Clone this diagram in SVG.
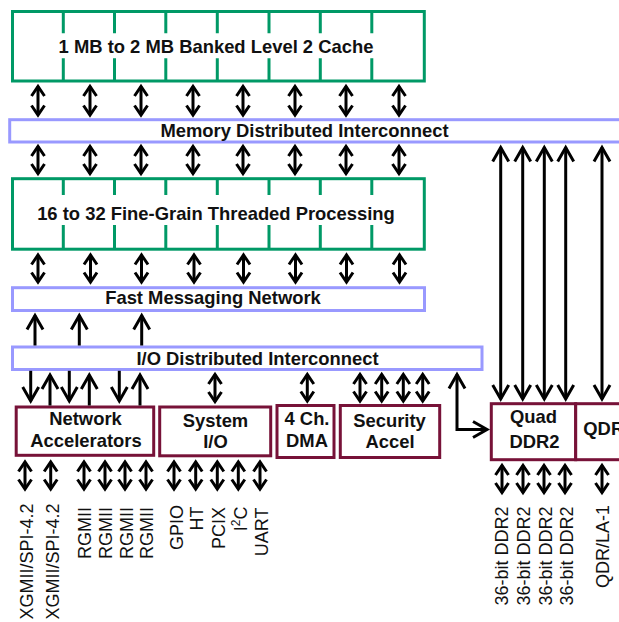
<svg xmlns="http://www.w3.org/2000/svg" width="619" height="622" viewBox="0 0 619 622">
<style>
.g{fill:#fff;stroke:#009966;stroke-width:3}
.gd{fill:none;stroke:#009966;stroke-width:3}
.b{fill:#fff;stroke:#9999ff;stroke-width:3}
.m{fill:#fff;stroke:#771238;stroke-width:3}
.t{font-family:"Liberation Sans",Arial,sans-serif;font-weight:bold;font-size:18.4px;fill:#111;text-anchor:middle}
.r{font-family:"Liberation Sans",Arial,sans-serif;font-size:18px;fill:#111;text-anchor:end}
.c{fill:none;stroke:#000;stroke-width:3}
.s{marker-start:url(#hs);marker-end:url(#hs)}
.l{marker-start:url(#hl);marker-end:url(#hl)}
.le{marker-end:url(#hl)}
</style>
<defs>
<marker id="hs" viewBox="-14 -10 18 20" markerWidth="18" markerHeight="20" refX="0" refY="0" orient="auto-start-reverse" markerUnits="userSpaceOnUse">
<path d="M-9.5,-6.5 L0,0 L-9.5,6.5" fill="none" stroke="#000" stroke-width="3"/>
</marker>
<marker id="hl" viewBox="-18 -11 22 22" markerWidth="22" markerHeight="22" refX="0" refY="0" orient="auto-start-reverse" markerUnits="userSpaceOnUse">
<path d="M-14,-8 L0,0 L-14,8" fill="none" stroke="#000" stroke-width="3"/>
</marker>
</defs>
<rect width="619" height="622" fill="#fff"/>

<g id="cache">
<rect class="g" x="12.5" y="11.5" width="411.8" height="69.5"/>
<path class="gd" d="M63.3,11.5V33.3M63.3,58.3V81M114.5,11.5V33.3M114.5,58.3V81M165.8,11.5V33.3M165.8,58.3V81M217.3,11.5V33.3M217.3,58.3V81M269,11.5V33.3M269,58.3V81M320.3,11.5V33.3M320.3,58.3V81M371.8,11.5V33.3M371.8,58.3V81"/>
<text class="t" x="216" y="53">1 MB to 2 MB Banked Level 2 Cache</text>
</g>

<g id="memory-interconnect">
<rect class="b" x="9.7" y="119.7" width="625" height="22.3"/>
<text class="t" x="304.5" y="137">Memory Distributed Interconnect</text>
</g>

<g id="processing">
<rect class="g" x="12.5" y="178.7" width="411.8" height="70.5"/>
<path class="gd" d="M63.3,178.7V195M63.3,225V249.2M114.5,178.7V195M114.5,225V249.2M165.8,178.7V195M165.8,225V249.2M217.3,178.7V195M217.3,225V249.2M269,178.7V195M269,225V249.2M320.3,178.7V195M320.3,225V249.2M371.8,178.7V195M371.8,225V249.2"/>
<text class="t" x="216" y="220">16 to 32 Fine-Grain Threaded Processing</text>
</g>

<g id="fast-messaging">
<rect class="b" x="12.5" y="287.7" width="412" height="22.8"/>
<text class="t" x="213" y="304">Fast Messaging Network</text>
</g>

<g id="io-interconnect">
<rect class="b" x="12.5" y="347" width="469.5" height="22.5"/>
<text class="t" x="257.5" y="364.5">I/O Distributed Interconnect</text>
</g>

<g id="network-accelerators">
<rect class="m" x="16.2" y="407" width="137.5" height="48.3"/>
<text class="t" x="85.5" y="425">Network</text>
<text class="t" x="86" y="447.3">Accelerators</text>
</g>

<g id="system-io">
<rect class="m" x="159.7" y="407" width="111" height="48.8"/>
<text class="t" x="215.5" y="426.7">System</text>
<text class="t" x="215.5" y="448.3">I/O</text>
</g>

<g id="dma">
<rect class="m" x="277" y="405.5" width="57" height="52"/>
<text class="t" x="307" y="425">4 Ch.</text>
<text class="t" x="307" y="446.7">DMA</text>
</g>

<g id="security">
<rect class="m" x="340.3" y="405.5" width="99.4" height="52"/>
<text class="t" x="389.5" y="426.7">Security</text>
<text class="t" x="390" y="448.3">Accel</text>
</g>

<g id="quad-ddr2">
<rect class="m" x="491.3" y="403.7" width="84.4" height="56"/>
<text class="t" x="533.5" y="423.3">Quad</text>
<text class="t" x="534.5" y="448.3">DDR2</text>
</g>

<g id="qdr">
<rect class="m" x="575.7" y="403.7" width="60" height="56"/>
<text class="t" x="583.3" y="435" style="text-anchor:start">QDR</text>
</g>

<g id="connectors">
<g class="c s">
<line x1="38" y1="86.5" x2="38" y2="115"/>
<line x1="90" y1="86.5" x2="90" y2="115"/>
<line x1="141" y1="86.5" x2="141" y2="115"/>
<line x1="193" y1="86.5" x2="193" y2="115"/>
<line x1="243" y1="86.5" x2="243" y2="115"/>
<line x1="295" y1="86.5" x2="295" y2="115"/>
<line x1="346" y1="86.5" x2="346" y2="115"/>
<line x1="399" y1="86.5" x2="399" y2="115"/>

<line x1="38" y1="146.5" x2="38" y2="173.5"/>
<line x1="90" y1="146.5" x2="90" y2="173.5"/>
<line x1="141" y1="146.5" x2="141" y2="173.5"/>
<line x1="193" y1="146.5" x2="193" y2="173.5"/>
<line x1="243" y1="146.5" x2="243" y2="173.5"/>
<line x1="295" y1="146.5" x2="295" y2="173.5"/>
<line x1="346" y1="146.5" x2="346" y2="173.5"/>
<line x1="399" y1="146.5" x2="399" y2="173.5"/>

<line x1="38" y1="255" x2="38" y2="282"/>
<line x1="90.5" y1="255" x2="90.5" y2="282"/>
<line x1="141.5" y1="255" x2="141.5" y2="282"/>
<line x1="194" y1="255" x2="194" y2="282"/>
<line x1="243.5" y1="255" x2="243.5" y2="282"/>
<line x1="295.5" y1="255" x2="295.5" y2="282"/>
<line x1="346.5" y1="255" x2="346.5" y2="282"/>
<line x1="399.5" y1="255" x2="399.5" y2="282"/>

<line x1="215" y1="374.5" x2="215" y2="401.5"/>
<line x1="307.3" y1="374.5" x2="307.3" y2="401"/>
<line x1="360" y1="374.5" x2="360" y2="401"/>
<line x1="381.7" y1="374.5" x2="381.7" y2="401"/>
<line x1="403.3" y1="374.5" x2="403.3" y2="401"/>
<line x1="422.7" y1="374.5" x2="422.7" y2="401"/>

<line x1="25" y1="462" x2="25" y2="489"/>
<line x1="50.7" y1="462" x2="50.7" y2="489"/>
<line x1="84" y1="462" x2="84" y2="489"/>
<line x1="105" y1="462" x2="105" y2="489"/>
<line x1="125" y1="462" x2="125" y2="489"/>
<line x1="146" y1="462" x2="146" y2="489"/>
<line x1="174" y1="462" x2="174" y2="489"/>
<line x1="195.7" y1="462" x2="195.7" y2="489"/>
<line x1="217.3" y1="462" x2="217.3" y2="489"/>
<line x1="238.3" y1="462" x2="238.3" y2="489"/>
<line x1="260" y1="462" x2="260" y2="489"/>

<line x1="502" y1="465.5" x2="502" y2="492.5"/>
<line x1="523" y1="465.5" x2="523" y2="492.5"/>
<line x1="544" y1="465.5" x2="544" y2="492.5"/>
<line x1="565" y1="465.5" x2="565" y2="492.5"/>
<line x1="602" y1="465.5" x2="602" y2="492.5"/>
</g>
<g class="c le">
<line x1="35" y1="345.5" x2="35" y2="315.5"/>
<line x1="79.3" y1="345.5" x2="79.3" y2="315.5"/>
<line x1="141.7" y1="345.5" x2="141.7" y2="315.5"/>

<line x1="30.7" y1="370.8" x2="30.7" y2="401"/>
<line x1="69.3" y1="370.8" x2="69.3" y2="401"/>
<line x1="119.3" y1="370.8" x2="119.3" y2="401"/>

<line x1="50" y1="405.5" x2="50" y2="375"/>
<line x1="89.3" y1="405.5" x2="89.3" y2="375"/>
<line x1="140" y1="405.5" x2="140" y2="375"/>
</g>
<g class="c l">
<line x1="500.7" y1="147.5" x2="500.7" y2="399"/>
<line x1="522.7" y1="147.5" x2="522.7" y2="399"/>
<line x1="544.3" y1="147.5" x2="544.3" y2="399"/>
<line x1="565.7" y1="147.5" x2="565.7" y2="399"/>
<line x1="602" y1="147.5" x2="602" y2="399"/>
<path d="M457,374.5V429.5H487"/>
</g>
</g>

<g id="labels">
<text class="r" transform="translate(33,503.5) rotate(-90)">XGMII/SPI-4.2</text>
<text class="r" transform="translate(59,503.5) rotate(-90)">XGMII/SPI-4.2</text>
<text class="r" transform="translate(91,507) rotate(-90)">RGMII</text>
<text class="r" transform="translate(112,507) rotate(-90)">RGMII</text>
<text class="r" transform="translate(133,507) rotate(-90)">RGMII</text>
<text class="r" transform="translate(153,507) rotate(-90)">RGMII</text>
<text class="r" transform="translate(183,505) rotate(-90)">GPIO</text>
<text class="r" transform="translate(203,506.5) rotate(-90)">HT</text>
<text class="r" transform="translate(225,507) rotate(-90)">PCIX</text>
<text class="r" transform="translate(247,506.5) rotate(-90)">I<tspan font-size="12" dy="-7">2</tspan><tspan dy="7">C</tspan></text>
<text class="r" transform="translate(268,507.5) rotate(-90)">UART</text>
<text class="r" transform="translate(508,506.5) rotate(-90)">36-bit DDR2</text>
<text class="r" transform="translate(530,506.5) rotate(-90)">36-bit DDR2</text>
<text class="r" transform="translate(552,506.5) rotate(-90)">36-bit DDR2</text>
<text class="r" transform="translate(573,506.5) rotate(-90)">36-bit DDR2</text>
<text class="r" transform="translate(609,505) rotate(-90)">QDR/LA-1</text>
</g>
</svg>
